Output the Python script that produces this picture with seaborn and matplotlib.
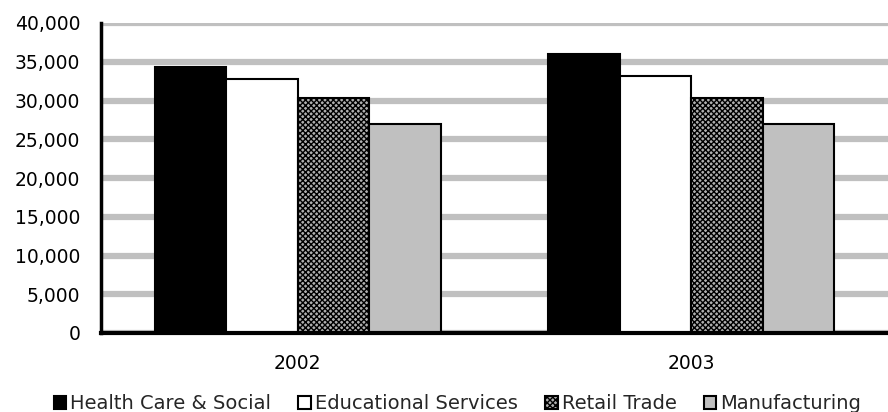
import numpy as np
import pandas as pd
import matplotlib
matplotlib.use("Agg")
import matplotlib.pyplot as plt
import seaborn as sns

years = ["2002", "2003"]
industries = ["Health Care & Social", "Educational Services", "Retail Trade", "Manufacturing"]
health = [34300, 36000]
education = [32800, 33200]
retail = [30300, 30300]
manufacturing = [27000, 27000]

df = pd.DataFrame({
    "year": years * 4,
    "industry": [i for i in industries for _ in years],
    "value": health + education + retail + manufacturing,
})

sns.set_style("white")
plt.rcParams["font.family"] = ["DejaVu Sans"]

colors = {"Health Care & Social": "black",
          "Educational Services": "white",
          "Retail Trade": "#b0b0b0",
          "Manufacturing": "#c0c0c0"}

fig = plt.figure(figsize=(8.88, 4.12), dpi=100)
ax = fig.add_axes([101 / 888, 1 - 333 / 412, 1 - 101 / 888, (333 - 23) / 412])

sns.barplot(data=df, x="year", y="value", hue="industry", hue_order=industries,
            order=years, palette=colors, width=0.727, edgecolor="black",
            linewidth=1.5, saturation=1, legend=False, ax=ax)

plt.rcParams["hatch.color"] = "#505050"
for p in ax.containers[2].patches:
    p.set_hatch("xxxxxx")
    p.set_linewidth(1.5)

ax.set_ylim(0, 40000)
ax.set_yticks(range(0, 40001, 5000))
ax.set_yticklabels([f"{v:,}" for v in range(0, 40001, 5000)])
ax.grid(axis="y", color="#c0c0c0", linewidth=4.5)
ax.set_axisbelow(True)
ax.set_xlabel("")
ax.set_ylabel("")
for s in ["top", "right"]:
    ax.spines[s].set_visible(False)
ax.spines["left"].set_linewidth(2.5)
ax.spines["bottom"].set_linewidth(3)
ax.spines["left"].set_color("black")
ax.spines["bottom"].set_color("black")
ax.tick_params(axis="both", length=0, labelsize=13.5, colors="black")
ax.tick_params(axis="y", pad=15)
ax.tick_params(axis="x", pad=15)

handles = [c.patches[0] for c in ax.containers]
fig.legend(handles=handles, labels=industries, loc="lower center",
           bbox_to_anchor=(0.515, -0.045), ncol=4, frameon=False,
           handlelength=0.65, handleheight=0.65, handletextpad=0.2,
           columnspacing=1.4, fontsize=14)

fig.savefig("out.png", dpi=100)
